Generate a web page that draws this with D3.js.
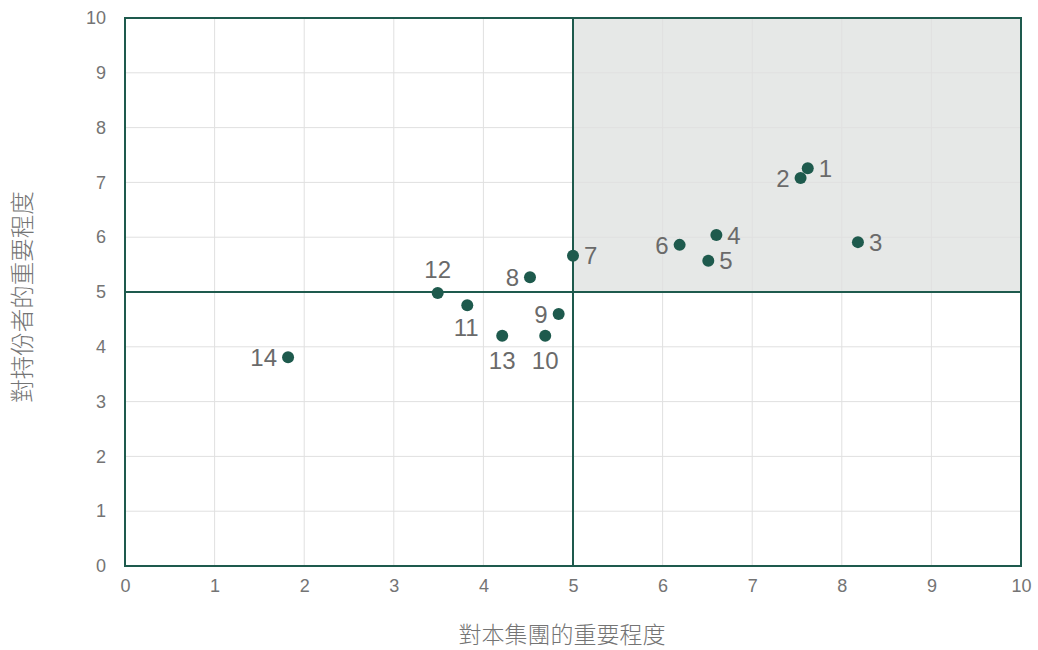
<!DOCTYPE html>
<html><head><meta charset="utf-8">
<script src="https://cdn.jsdelivr.net/npm/d3@7"></script>
<style>
body{margin:0;background:#fff;}
text{font-family:"Liberation Sans","Helvetica Neue",Arial,sans-serif;}
</style></head>
<body><svg id="c" width="1038" height="650"></svg>
<script>
const labels = ["1","2","3","4","5","6","7","8","9","10","11","12","13","14"];
const xValues = [7.62,7.54,8.18,6.60,6.51,6.19,5.00,4.52,4.84,4.69,3.82,3.49,4.21,1.82];
const yValues = [7.26,7.08,5.91,6.04,5.57,5.86,5.66,5.27,4.60,4.20,4.76,4.98,4.20,3.81];
const labelPos = ["r","l","r","r","r","l","r","l","l","b","b2","t","b","l"];
const tickValues = [0,1,2,3,4,5,6,7,8,9,10];
const xTitle = "對本集團的重要程度";
const yTitle = "對持份者的重要程度";

const svg = d3.select("#c");
const L=125, R=1021, T=18, B=566;
const x = d3.scaleLinear().domain([0,10]).range([L,R]);
const y = d3.scaleLinear().domain([0,10]).range([B,T]);
const dark = "#1e5a4d";
const grey = "#747474";
const font = "'Liberation Sans','Helvetica Neue',Arial,sans-serif";

// shaded quadrant
svg.append("rect").attr("x",x(5)).attr("y",y(10)).attr("width",x(10)-x(5)).attr("height",y(5)-y(10)).attr("fill","#e6e8e7");

// grid
svg.append("g").selectAll("line").data(tickValues).join("line")
  .attr("x1",d=>x(d)).attr("x2",d=>x(d)).attr("y1",T).attr("y2",B)
  .attr("stroke","#e0e0e0").attr("stroke-width",1);
svg.append("g").selectAll("line").data(tickValues).join("line")
  .attr("y1",d=>y(d)).attr("y2",d=>y(d)).attr("x1",L).attr("x2",R)
  .attr("stroke","#e0e0e0").attr("stroke-width",1);

// frame and mid lines
svg.append("rect").attr("x",L).attr("y",T).attr("width",R-L).attr("height",B-T)
  .attr("fill","none").attr("stroke",dark).attr("stroke-width",2);
svg.append("line").attr("x1",x(5)).attr("x2",x(5)).attr("y1",T).attr("y2",B).attr("stroke",dark).attr("stroke-width",2);
svg.append("line").attr("y1",y(5)).attr("y2",y(5)).attr("x1",L).attr("x2",R).attr("stroke",dark).attr("stroke-width",2);

// axes
const xa = svg.append("g").attr("transform",`translate(0,${B+9})`)
  .call(d3.axisBottom(x).tickValues(tickValues).tickSize(0).tickFormat(d3.format("d")));
xa.select(".domain").remove();
xa.selectAll("text").attr("fill",grey).attr("font-size",18).attr("dy","0.8em").style("font-family",font);
const ya = svg.append("g").attr("transform",`translate(${L-16},0)`)
  .call(d3.axisLeft(y).tickValues(tickValues).tickSize(0).tickFormat(d3.format("d")));
ya.select(".domain").remove();
ya.selectAll("text").attr("fill",grey).attr("font-size",18).style("font-family",font);

// titles
svg.append("text").attr("x",562).attr("y",643).attr("text-anchor","middle")
  .attr("fill",grey).attr("font-size",23).style("font-family","'Noto Sans CJK TC',sans-serif").style("font-weight",300).text(xTitle);
svg.append("text").attr("transform",`translate(31,297) rotate(-90)`).attr("text-anchor","middle")
  .attr("fill",grey).attr("font-size",23.5).style("font-family","'Noto Sans CJK TC',sans-serif").style("font-weight",300).text(yTitle);

// points
const data = labels.map((l,i)=>({l, x:xValues[i], y:yValues[i], p:labelPos[i]}));
svg.append("g").selectAll("circle").data(data).join("circle")
  .attr("cx",d=>x(d.x)).attr("cy",d=>y(d.y)).attr("r",6).attr("fill",dark);

const off = {r:[11,0,"start"], l:[-11,0,"end"], t:[0,-24,"middle"], b:[0,25,"middle"], b2:[-1,22,"middle"]};
svg.append("g").selectAll("text").data(data).join("text")
  .attr("x",d=>x(d.x)+off[d.p][0]).attr("y",d=>y(d.y)+off[d.p][1])
  .attr("dy","0.36em").attr("text-anchor",d=>off[d.p][2])
  .attr("fill","#6a6a6a").attr("font-size",24).style("font-family",font).text(d=>d.l);
</script></body></html>
